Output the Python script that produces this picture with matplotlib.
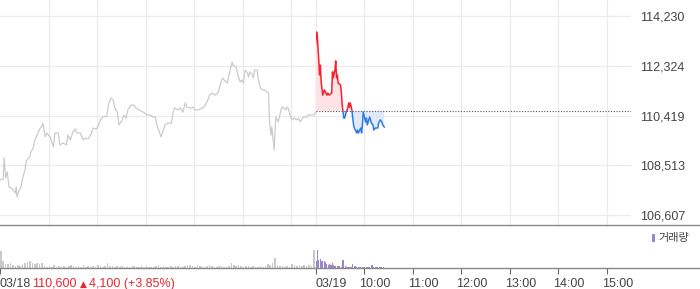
import matplotlib
matplotlib.use('Agg')
import matplotlib.pyplot as plt
import matplotlib.transforms as mtransforms
from matplotlib.patches import Rectangle
import numpy as np

# 03/18 session (minutes from 09:00) and price
day1_min = [0, 4, 5, 7, 9, 11, 14, 16, 19, 20, 21, 24, 26, 28, 31, 32, 35, 37, 38, 41,
            43, 45, 47, 49, 52, 53, 56, 58, 62, 66, 68, 72, 74, 78, 82, 84, 87, 90, 93, 95,
            99, 103, 105, 109, 113, 115, 119, 121, 124, 127, 132, 134, 137, 140, 142, 145, 147, 151, 153, 156,
            158, 162, 165, 168, 172, 177, 182, 186, 189, 192, 194, 197, 199, 202, 204, 208, 212, 214, 216, 220,
            223, 226, 229, 231, 235, 239, 241, 245, 250, 252, 256, 259, 262, 266, 270, 272, 275, 277, 281, 283,
            287, 288, 292, 294, 297, 299, 301, 303, 306, 307, 309, 312, 313, 315, 318, 319, 322, 324, 327, 330,
            332, 333, 335, 336, 338, 339, 340, 341, 344, 345, 348, 350, 353, 355, 356, 360, 361, 364, 367, 369,
            371, 374, 376, 379, 381, 386, 388, 390]
day1_price = [107950, 107990, 108790, 108030, 108260, 107680, 107640, 107570, 107450, 107680,
              107300, 107570, 107680, 108030, 108330, 108640, 108790, 108830, 109020, 109170,
              109480, 109600, 109750, 109900, 110020, 110130, 109600, 109750, 109600, 109210,
              109750, 109750, 109290, 109370, 109290, 109670, 109480, 109790, 109900, 109750,
              109750, 109480, 109560, 109520, 109750, 109940, 109900, 109980, 110250, 110360,
              110400, 110820, 111090, 111010, 110710, 110550, 110060, 110250, 110440, 110320,
              110630, 110820, 110820, 110710, 110630, 110550, 110440, 110440, 110360, 110360,
              110060, 109790, 109600, 109860, 110060, 110130, 110130, 110550, 110710, 110630,
              110710, 110550, 110900, 110740, 110710, 110740, 110630, 110630, 110710, 110740,
              110940, 111200, 111280, 111200, 111320, 111590, 111860, 111780, 111660, 111970,
              112470, 112350, 112280, 111970, 111700, 111780, 111660, 112160, 112050, 111890,
              112090, 111970, 111860, 112160, 112160, 111860, 111470, 111400, 111400, 111320,
              111280, 110250, 109670, 109980, 109400, 109100, 109860, 110360, 110170, 110320,
              110710, 110740, 110630, 110740, 110710, 110320, 110250, 110320, 110250, 110320,
              110170, 110320, 110360, 110360, 110440, 110440, 110440, 110550]

# 03/19 session
day2_min = [0, 1, 2, 4, 5, 6, 7, 9, 11, 14, 15, 17, 20, 21, 22, 24, 25, 26, 27, 28,
            31, 32, 33, 35, 36, 38, 40, 41, 42, 43, 45, 46, 47, 48, 51, 52, 53, 56, 57, 58,
            59, 62, 63, 64, 67, 69, 71, 72, 74, 77, 78, 80, 82, 83, 85]
day2_price = [113120, 113620, 113580, 112550, 111970, 112350, 111700, 111200, 111400, 111200,
              111280, 111200, 111280, 112090, 111860, 112160, 112510, 111860, 111970, 111660,
              111590, 111280, 110820, 110320, 110320, 110550, 110710, 110900, 110740, 110900,
              110630, 110320, 110060, 109940, 109750, 109860, 109750, 109940, 109750, 110060,
              110550, 110170, 110320, 110060, 110360, 110130, 110060, 109860, 109940, 109940,
              110130, 110250, 110170, 110060, 109980]
base_price = 110600

# volume: 03/18 in 3-minute bars, 03/19 in 1-minute bars
day1_vol = [680, 280, 160, 160, 200, 120, 80, 120, 80, 160, 200, 240, 280, 200, 160, 200, 160, 200, 80, 40,
            80, 40, 120, 40, 80, 40, 80, 40, 80, 120, 80, 40, 80, 40, 120, 40, 80, 40, 80, 40,
            120, 80, 40, 80, 200, 80, 80, 40, 80, 40, 80, 40, 40, 40, 40, 80, 40, 40, 80, 40,
            80, 40, 40, 40, 80, 120, 40, 80, 40, 40, 80, 40, 80, 80, 40, 40, 80, 120, 120, 80,
            40, 120, 80, 40, 40, 80, 120, 80, 40, 40, 80, 80, 40, 40, 80, 200, 120, 80, 120, 80,
            40, 80, 80, 40, 80, 40, 40, 80, 40, 80, 160, 120, 200, 400, 120, 80, 80, 40, 80, 40,
            160, 120, 80, 120, 80, 120, 80, 120, 80, 720]
day2_vol = [1440, 280, 720, 320, 320, 280, 360, 280, 280, 280, 200, 280, 240, 160, 160, 200, 120, 160, 120, 120,
            120, 200, 120, 80, 80, 80, 240, 80, 80, 80, 80, 40, 40, 320, 320, 320, 40, 80, 40, 40,
            40, 80, 40, 40, 40, 160, 120, 40, 80, 80, 40, 40, 40, 40, 40, 40, 40, 80, 40, 40,
            40, 40, 40, 40, 40, 40, 40, 40, 40, 120, 120, 40, 40, 40, 40, 40, 40, 40, 40, 40,
            40, 40, 40, 120, 40]

y_ticks = [114230, 112324.25, 110418.5, 108512.75, 106607]
y_labels = ['114,230', '112,324', '110,419', '108,513', '106,607']
x_ticks = [0, 390, 450, 510, 570, 630, 690, 750]
x_labels = ['', '03/19', '10:00', '11:00', '12:00', '13:00', '14:00', '15:00']

FONT = ['Liberation Sans', 'DejaVu Sans']
plt.rcParams['font.family'] = FONT

W, H = 700, 289
fig = plt.figure(figsize=(7, 2.89), dpi=100)
ax = fig.add_axes([0, 1 - 225 / H, 631 / W, 225 / H])
axv = fig.add_axes([0, 21 / H, 1, 43 / H])

x1 = np.array(day1_min)
x2 = np.array(day2_min) + 390
p2 = np.array(day2_price)

# grid
for gx in [60, 120, 180, 240, 300, 360, 390, 450, 510, 570, 630, 690, 750]:
    ax.axvline(gx, color='#ebebeb', lw=0.9, zorder=0)
for gy in y_ticks:
    ax.axhline(gy, color='#ebebeb', lw=0.9, zorder=0)

ax.plot(x1, day1_price, color='#c8c8ce', lw=0.85, zorder=2)

ax.fill_between(x2, p2, base_price, where=p2 >= base_price, interpolate=True,
                color='#fde3e6', lw=0, zorder=1)
ax.fill_between(x2, p2, base_price, where=p2 <= base_price, interpolate=True,
                color='#dfe9f8', lw=0, zorder=1)

up, = ax.plot(x2, p2, color='#f5222d', lw=1.1, zorder=3)
dn, = ax.plot(x2, p2, color='#2e7be0', lw=1.1, zorder=3)
up.set_clip_path(Rectangle((390, base_price), 400, 10000, transform=ax.transData))
dn.set_clip_path(Rectangle((390, base_price - 10000), 400, 10000, transform=ax.transData))

ax.hlines(base_price, 390, 780, colors='#555555', linestyles=(0, (1, 1.5)), lw=0.8, zorder=4)

ax.set_xlim(0, 780)
ax.set_ylim(106225, 114843)
ax.set_yticks(y_ticks)
ax.set_yticklabels(y_labels)
ax.yaxis.tick_right()
ax.tick_params(axis='y', length=0, pad=6.5, labelsize=9, labelcolor='#444444')
ax.set_xticks([])
for s in ax.spines.values():
    s.set_visible(False)

# volume
axv.bar(np.arange(len(day1_vol)) * 3, day1_vol, width=2.0, align='edge', color='#c8c8cd', lw=0)
axv.bar(np.arange(len(day2_vol)) + 390, day2_vol, width=0.8, align='edge', color='#9a87c8', lw=0)
axv.set_xlim(0, 780 * W / 631)
axv.set_ylim(0, 1720)
axv.set_yticks([])
axv.set_xticks(x_ticks)
axv.set_xticklabels([])
axv.tick_params(axis='x', length=4, width=0.8, color='#666666')
for k in ['left', 'right']:
    axv.spines[k].set_visible(False)
for k in ['top', 'bottom']:
    axv.spines[k].set_color('#888888')
    axv.spines[k].set_linewidth(1.0)

# time labels sit left-aligned just left of their ticks
trans = mtransforms.blended_transform_factory(axv.transData, fig.transFigure)
for xt, lab in zip(x_ticks, x_labels):
    if not lab:
        continue
    shift = 0 if lab.startswith('03') else -5
    off = mtransforms.ScaledTranslation(shift / 100, 0, fig.dpi_scale_trans)
    axv.text(xt, 2 / H, lab, transform=trans + off, fontsize=9, color='#444444',
             ha='left', va='baseline')

# legend of volume
fig.patches.append(Rectangle((652 / W, 1 - 242 / H), 3 / W, 8 / H, transform=fig.transFigure,
                             color='#9a87c8', lw=0))
fig.text(658 / W, 1 - 238 / H, '거래량', fontsize=8, color='#444444', va='center',
         family=['Noto Sans CJK KR', 'DejaVu Sans'])

# bottom-left summary
fig.text(0, 2 / H, '03/18', fontsize=9, color='#444444', va='baseline', ha='left')
fig.text(32.5 / W, 2 / H, '110,600', fontsize=9, color='#e8262d', va='baseline', ha='left')
fig.text(80 / W, 2 / H, '▲', fontsize=6.5, color='#e8262d', va='baseline', ha='left',
         family=['DejaVu Sans'])
fig.text(89 / W, 2 / H, '4,100 (+3.85%)', fontsize=9, color='#e8262d', va='baseline', ha='left')

fig.savefig('out.png', dpi=100)
